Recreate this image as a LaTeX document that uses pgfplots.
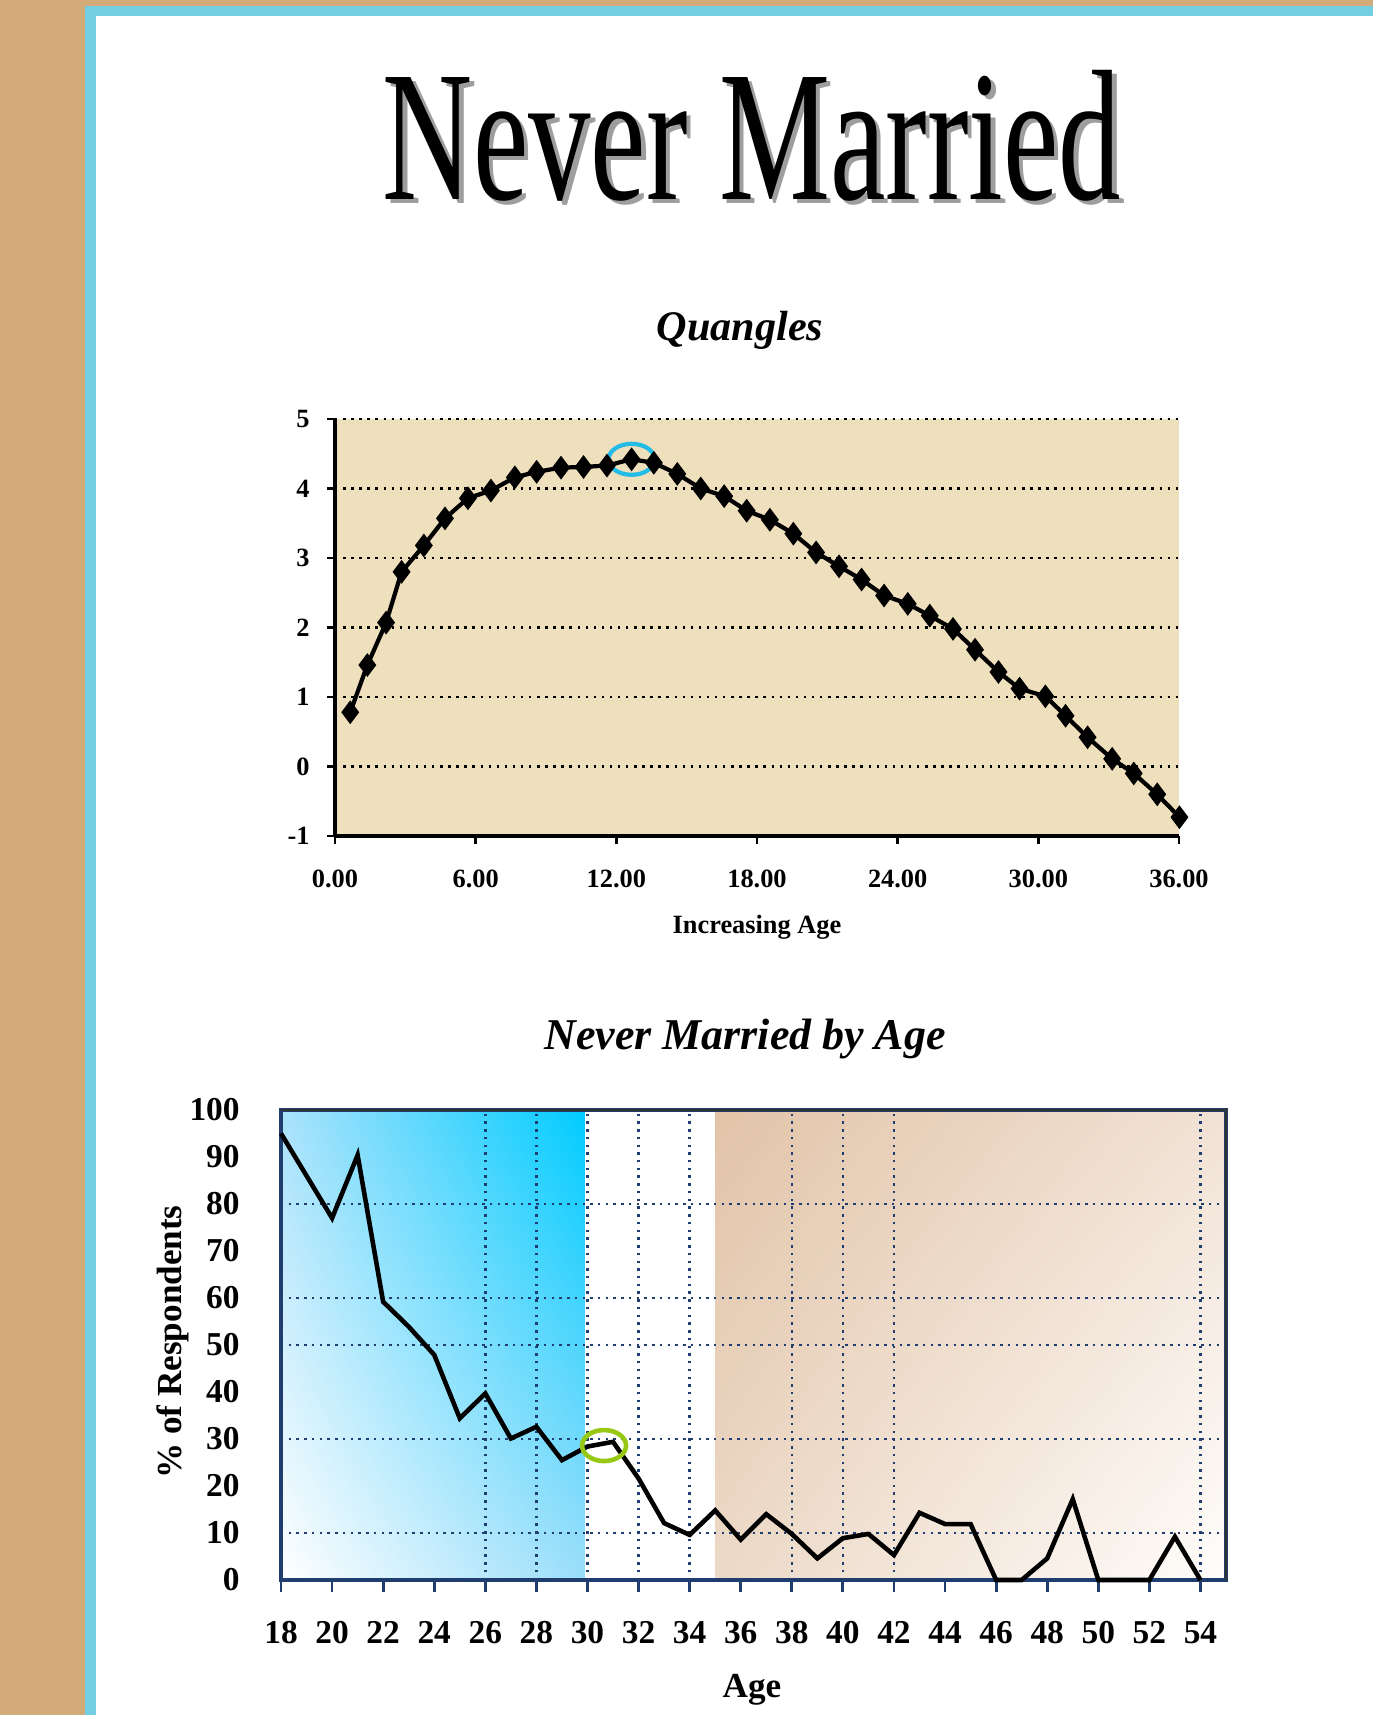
\documentclass[border=0pt]{standalone}
\usepackage{fontspec}
\setmainfont{Liberation Serif}
\usepackage{pgfplots}
\pgfplotsset{compat=1.18}
\usetikzlibrary{shadings}
\definecolor{pagetan}{RGB}{211,171,120}
\definecolor{pagecyan}{RGB}{116,206,226}
\definecolor{parch}{RGB}{238,223,189}
\definecolor{navy}{RGB}{31,61,110}
\definecolor{skyc}{RGB}{0,204,255}
\definecolor{skyul}{RGB}{170,226,251}
\definecolor{skylr}{RGB}{155,222,250}
\definecolor{tanul}{RGB}{226,196,168}
\definecolor{tanur}{RGB}{241,226,213}
\definecolor{tanll}{RGB}{236,217,199}
\definecolor{tanlr}{RGB}{255,253,251}
\definecolor{ringcyan}{RGB}{35,188,230}
\definecolor{ringgreen}{RGB}{150,200,20}
\begin{document}
\begin{tikzpicture}
\useasboundingbox (0,0) rectangle (13.73,17.15);
\fill[white] (0,0) rectangle (13.73,17.15);
\fill[pagetan] (0,0) rectangle (0.85,17.15);
\fill[pagetan] (0,17.09) rectangle (13.73,17.15);
\fill[pagecyan] (0.85,0) rectangle (0.96,17.09);
\fill[pagecyan] (0.85,16.99) rectangle (13.73,17.09);

% main title with shadow
\node[anchor=base, text=black!38, inner sep=0pt] at (7.565,15.11) {\scalebox{0.67}[1]{\fontsize{53}{53}\selectfont Never Married}};
\node[anchor=base, inner sep=0pt] at (7.52,15.15) {\scalebox{0.67}[1]{\fontsize{53}{53}\selectfont Never Married}};

% upper chart texts
\node[font=\bfseries\itshape\fontsize{12}{14}\selectfont] at (7.40,13.85) {Quangles};
\node[font=\bfseries\fontsize{7.5}{9}\selectfont] at (7.57,7.88) {Increasing Age};

\begin{axis}[
  at={(3.35cm,8.79cm)}, anchor=south west,
  scale only axis, width=8.44cm, height=4.17cm,
  xmin=0, xmax=36, ymin=-1, ymax=5,
  axis x line*=bottom, axis y line*=left,
  axis line style={black, line width=0.9pt, -},
  xtick={0,6,...,36}, ytick={-1,0,...,5},
  tick align=outside, major tick length=0.08cm,
  tick style={black, line width=0.8pt},
  ymajorgrids,
  grid style={black, line width=0.7pt, dash pattern=on 0.7pt off 1.6pt},
  axis background/.style={fill=parch},
  /pgf/number format/assume math mode=true,
  tick label style={font=\bfseries\fontsize{7.5}{9}\selectfont},
  xticklabel style={/pgf/number format/.cd, fixed, fixed zerofill, precision=2, /tikz/.cd, yshift=-0.14cm},
  yticklabel style={xshift=-0.05cm},
  clip=false,
]
\addplot[black, line width=1.2pt, mark=diamond*, mark size=2.4pt, mark options={fill=black}] coordinates {
(0.65,0.78) (1.38,1.46) (2.18,2.07) (2.84,2.80) (3.79,3.18) (4.69,3.57)
(5.67,3.86) (6.65,3.97) (7.67,4.16) (8.60,4.24) (9.64,4.30) (10.60,4.31)
(11.60,4.33) (12.65,4.42) (13.60,4.37) (14.60,4.21) (15.60,4.00) (16.60,3.89)
(17.56,3.68) (18.55,3.55) (19.55,3.35) (20.52,3.08) (21.50,2.88) (22.46,2.69)
(23.42,2.46) (24.43,2.34) (25.37,2.17) (26.36,1.98) (27.30,1.68) (28.30,1.36)
(29.20,1.12) (30.30,1.01) (31.16,0.73) (32.10,0.42) (33.15,0.11) (34.07,-0.10)
(35.07,-0.40) (36.02,-0.73)
};
\draw[ringcyan, line width=1.2pt] (axis cs:12.65,4.42) ellipse [x radius=0.23cm, y radius=0.155cm];
\end{axis}

% lower chart texts
\node[font=\bfseries\itshape\fontsize{12.5}{15}\selectfont] at (7.45,6.76) {Never Married by Age};
\node[font=\bfseries\fontsize{10}{12}\selectfont, rotate=90] at (1.73,3.73) {\% of Respondents};
\node[font=\bfseries\fontsize{10}{12}\selectfont] at (7.52,0.25) {Age};

% gradient backgrounds of the lower chart (drawn beneath the axis)
\shade[lower left=white, upper right=skyc, upper left=skyul, lower right=skylr] (2.81,1.35) rectangle ({2.81+9.45*11.9/37},6.05);
\shade[upper left=tanul, lower right=tanlr, upper right=tanur, lower left=tanll] ({2.81+9.45*17/37},1.35) rectangle (12.26,6.05);

\begin{axis}[
  at={(2.81cm,1.35cm)}, anchor=south west,
  scale only axis, width=9.45cm, height=4.70cm,
  xmin=18, xmax=55, ymin=0, ymax=100,
  axis line style={navy, line width=0.9pt},
  xtick={18,20,...,54}, ytick={0,10,...,100},
  xtick pos=left,
  tick align=outside,
  xtick style={navy, line width=0.8pt},
  x tick label style={yshift=-0.17cm},
  ytick style={draw=none},
  y tick label style={xshift=-0.17cm},
  major tick length=0.12cm,
  extra x ticks={26,28,30,32,34,38,40,42,54},
  extra x tick labels={},
  extra x tick style={grid=major, major tick length=0pt},
  extra y ticks={10,30,50,60,80},
  extra y tick labels={},
  extra y tick style={grid=major, major tick length=0pt},
  grid style={navy, line width=0.7pt, dash pattern=on 0.7pt off 1.5pt},
  /pgf/number format/assume math mode=true,
  tick label style={font=\bfseries\fontsize{9.5}{11}\selectfont},
  clip=false,
]
\addplot[black, line width=1.3pt, no marks, sharp plot] coordinates {
(18,95.0) (19,86.0) (20,77.0) (21,90.4) (22,59.2) (23,53.9) (24,47.9)
(25,34.4) (26,39.7) (27,30.1) (28,32.6) (29,25.5) (30,28.4) (31,29.4)
(32,21.6) (33,12.1) (34,9.6) (35,14.8) (36,8.6) (37,14.0) (38,9.8)
(39,4.6) (40,8.9) (41,9.8) (42,5.3) (43,14.3) (44,11.9) (45,11.9)
(46,0) (47,0) (48,4.6) (49,17.2) (50,0) (51,0) (52,0) (53,9.2) (54,0)
};
\draw[ringgreen, line width=1.3pt] (axis cs:30.65,28.6) ellipse [x radius=0.22cm, y radius=0.155cm];
\draw[black!80, line width=0.7pt] (rel axis cs:0,1) -- (rel axis cs:1,1) -- (rel axis cs:1,0);
\end{axis}
\end{tikzpicture}
\end{document}
